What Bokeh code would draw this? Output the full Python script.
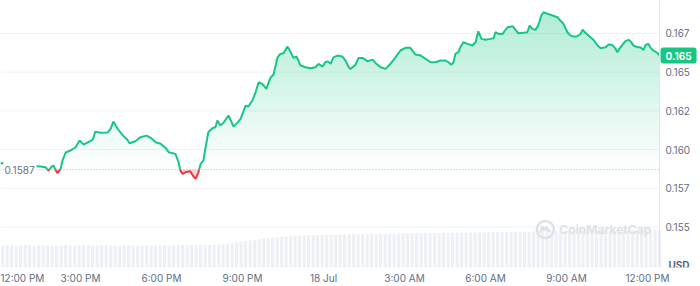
import numpy as np
from bokeh.plotting import figure
from bokeh.models import Range1d, FixedTicker, Label, ColumnDataSource
from bokeh.core.properties import value
from bokeh.embed import file_html
from bokeh.resources import INLINE

# ---- data (minutes after 17 Jul 12:00 PM, price in USD) ----
minutes = [
    2, 24, 47, 64, 80, 91, 102, 109, 116, 120,
    124, 129, 136, 140, 147, 158, 169, 178, 187, 196,
    207, 213, 224, 240, 247, 253, 262, 273, 284, 289,
    302, 313, 327, 336, 347, 358, 369, 376, 391, 398,
    402, 407, 413, 424, 431, 436, 442, 447, 453, 458,
    464, 473, 480, 484, 491, 498, 509, 520, 529, 536,
    547, 553, 562, 569, 576, 584, 593, 602, 609, 618,
    624, 631, 640, 647, 653, 660, 669, 680, 691, 702,
    709, 718, 724, 729, 736, 742, 751, 762, 769, 776,
    780, 791, 798, 807, 818, 829, 836, 847, 858, 869,
    880, 891, 902, 913, 924, 936, 947, 958, 969, 980,
    991, 998, 1004, 1009, 1013, 1020, 1024, 1031, 1040, 1051,
    1058, 1064, 1071, 1080, 1091, 1098, 1102, 1109, 1118, 1129,
    1140, 1147, 1153, 1164, 1173, 1178, 1184, 1191, 1198, 1204,
    1209, 1218, 1229, 1240, 1247, 1253, 1262, 1269, 1276, 1284,
    1291, 1296, 1302, 1313, 1320, 1329, 1336, 1347, 1353, 1362,
    1369, 1373, 1380, 1391, 1398, 1402, 1409, 1418, 1424, 1431,
    1436, 1442, 1447, 1453, 1462, 1467,
]
price = [
    0.15913, 0.15903, 0.15897, 0.15893, 0.15892, 0.15890, 0.15886, 0.15864, 0.15890, 0.15897,
    0.15871, 0.15847, 0.15877, 0.15929, 0.15981, 0.15994, 0.16015, 0.16058, 0.16032, 0.16047,
    0.16063, 0.16116, 0.16108, 0.16110, 0.16134, 0.16181, 0.16136, 0.16095, 0.16063, 0.16041,
    0.16054, 0.16079, 0.16090, 0.16076, 0.16047, 0.16037, 0.16011, 0.15983, 0.15972, 0.15918,
    0.15864, 0.15843, 0.15853, 0.15860, 0.15826, 0.15811, 0.15853, 0.15908, 0.15929, 0.16015,
    0.16112, 0.16138, 0.16144, 0.16187, 0.16155, 0.16174, 0.16220, 0.16149, 0.16174, 0.16200,
    0.16284, 0.16278, 0.16317, 0.16370, 0.16435, 0.16424, 0.16392, 0.16463, 0.16485, 0.16596,
    0.16618, 0.16622, 0.16665, 0.16629, 0.16592, 0.16601, 0.16543, 0.16532, 0.16525, 0.16532,
    0.16554, 0.16536, 0.16564, 0.16570, 0.16554, 0.16596, 0.16607, 0.16601, 0.16575, 0.16532,
    0.16521, 0.16547, 0.16592, 0.16592, 0.16570, 0.16581, 0.16558, 0.16532, 0.16521, 0.16554,
    0.16596, 0.16640, 0.16657, 0.16657, 0.16614, 0.16607, 0.16586, 0.16564, 0.16564, 0.16575,
    0.16575, 0.16564, 0.16547, 0.16564, 0.16618, 0.16629, 0.16661, 0.16693, 0.16683, 0.16672,
    0.16693, 0.16764, 0.16715, 0.16709, 0.16715, 0.16719, 0.16758, 0.16747, 0.16747, 0.16790,
    0.16797, 0.16773, 0.16751, 0.16754, 0.16758, 0.16801, 0.16780, 0.16773, 0.16808, 0.16866,
    0.16887, 0.16877, 0.16866, 0.16855, 0.16830, 0.16814, 0.16758, 0.16736, 0.16730, 0.16732,
    0.16747, 0.16775, 0.16754, 0.16725, 0.16709, 0.16672, 0.16654, 0.16661, 0.16678, 0.16676,
    0.16651, 0.16629, 0.16661, 0.16700, 0.16709, 0.16700, 0.16672, 0.16661, 0.16661, 0.16644,
    0.16676, 0.16683, 0.16657, 0.16640, 0.16625, 0.16607,
]
baseline = 0.1587
baseline_label = "0.1587"
last_price_label = "0.165"
currency_label = "USD"

# volume, one bar per 10 minutes (relative units)
volume = [
    8.1, 8.3, 8.2, 8.0, 8.2, 8.4, 8.3, 8.1, 8.2, 8.3,
    8.2, 8.0, 8.1, 8.3, 8.4, 8.2, 8.1, 8.2, 8.3, 8.2,
    8.1, 8.2, 8.4, 8.3, 8.2, 8.1, 8.0, 8.2, 8.3, 8.2,
    8.1, 8.2, 8.3, 8.2, 8.1, 8.3, 8.4, 8.2, 8.2, 8.3,
    8.4, 8.3, 8.5, 8.4, 8.3, 8.5, 8.4, 8.6, 8.5,
    8.7, 8.9, 9.1, 9.4, 9.6, 9.9, 10.1, 10.4, 10.6, 10.9,
    11.0, 11.2, 11.3, 11.5, 11.6, 11.8, 11.9, 12.0,
    12.0, 12.1, 12.1, 12.2, 12.2, 12.3, 12.2, 12.3, 12.3, 12.4,
    12.4, 12.5, 12.4, 12.5, 12.5, 12.6, 12.5, 12.6, 12.6, 12.7,
    12.6, 12.7, 12.7, 12.8, 12.7, 12.8, 12.8, 12.9, 12.8, 12.9,
    12.9, 13.0, 12.9, 13.0, 13.0, 13.1, 13.0, 13.1, 13.1, 13.2,
    13.1, 13.2, 13.2, 13.3, 13.2, 13.3, 13.3, 13.4, 13.3, 13.4, 13.4,
    13.5, 13.6, 13.6, 13.7, 13.7, 13.8, 13.7, 13.8, 13.8, 13.9,
    13.8, 13.9, 13.9, 14.0, 13.9, 14.0, 14.0, 14.0, 13.9, 14.0,
    14.0, 14.1, 14.0, 14.0, 14.1, 14.0, 14.0, 14.1, 14.0,
]
volume_minutes = [7 + 10 * i for i in range(len(volume))]

x_ticks = [44, 180, 360, 540, 720, 900, 1080, 1260, 1440]
x_labels = ["12:00 PM", "3:00 PM", "6:00 PM", "9:00 PM", "18 Jul",
            "3:00 AM", "6:00 AM", "9:00 AM", "12:00 PM"]
y_ticks = [0.155, 0.1575, 0.160, 0.1625, 0.165, 0.1675]
y_labels = ["0.155", "0.157", "0.160", "0.162", "0.165", "0.167"]

GREEN = "#16c784"
RED = "#ea3943"
GREY = "#616e85"
FONT = "Inter"

X0, X1 = 2.2, 1466.7          # data span (plot area left .. right edge)
PXM = 0.45                    # pixels per minute
XR = X1 + 41 / PXM            # canvas right edge (axis gutter)
Y0, Y1 = 0.15238, 0.16963

p = figure(width=700, height=286, output_backend="svg", toolbar_location=None,
           x_range=Range1d(X0, XR), y_range=Range1d(Y0, Y1),
           y_axis_location=None, min_border_left=0, min_border_top=0,
           min_border_right=0, min_border_bottom=19)
p.outline_line_color = None
p.background_fill_color = "white"
p.border_fill_color = "white"
p.xgrid.grid_line_color = None
p.ygrid.grid_line_color = None

# horizontal grid lines (plot area only)
p.segment(x0=[X0] * len(y_ticks), x1=[X1] * len(y_ticks), y0=y_ticks, y1=y_ticks,
          line_color="#eff2f5", line_width=1)

p.extra_y_ranges = {"vol": Range1d(0, 100)}
p.vbar(x=volume_minutes, top=volume, width=7, bottom=0, y_range_name="vol",
       fill_color="#edf0f4", line_color=None)

# watermark
wm_x, wm_y = 1213, 0.15483
dx, dy = 1 / PXM, 0.0000646
p.scatter(x=[wm_x], y=[wm_y], size=17, marker="circle", fill_color=None,
          line_color="#dde2e9", line_width=2.5)
p.line(x=[wm_x - 5 * dx, wm_x - 3 * dx, wm_x - 1 * dx, wm_x + 1 * dx, wm_x + 3 * dx, wm_x + 5 * dx],
       y=[wm_y - 3 * dy, wm_y + 3 * dy, wm_y - 1 * dy, wm_y + 3 * dy, wm_y - 2 * dy, wm_y + 0 * dy],
       line_color="#dde2e9", line_width=2.2)
p.add_layout(Label(x=wm_x + 14 * dx, y=wm_y, text="CoinMarketCap", text_font=FONT,
                   text_font_size="12px", text_font_style="bold", text_color="#dde2e9",
                   text_baseline="middle", text_align="left"))

# insert baseline crossings
t = np.array(minutes, float)
v = np.array(price, float)
tt, vv = [t[0]], [v[0]]
for i in range(1, len(t)):
    a, b = v[i - 1] - baseline, v[i] - baseline
    if a * b < 0:
        f = a / (a - b)
        tt.append(t[i - 1] + f * (t[i] - t[i - 1]))
        vv.append(baseline)
    tt.append(t[i])
    vv.append(v[i])
tt = np.array(tt)
vv = np.array(vv)

# gradient green fill between baseline and line
N = 28
h = (Y1 - baseline) / N
for k in range(N):
    lo = baseline + k * h
    hi = lo + h
    y2 = np.clip(vv, lo, hi)
    alpha = 0.36 * (k + 0.5) / N
    p.varea(x=tt, y1=np.full_like(tt, lo), y2=y2, fill_color=GREEN, fill_alpha=alpha)

# red fill below baseline
p.varea(x=tt, y1=np.minimum(vv, baseline), y2=np.full_like(tt, baseline),
        fill_color=RED, fill_alpha=0.22)

# baseline dotted
p.line(x=[X0, X1], y=[baseline, baseline], line_color="#a7aebf", line_width=1,
       line_dash="1 2")

green_line = np.where(vv >= baseline, vv, np.nan)
red_line = np.where(vv <= baseline, vv, np.nan)
p.line(x=tt, y=green_line, line_color=GREEN, line_width=2)
p.line(x=tt, y=red_line, line_color=RED, line_width=2)

# right-hand price axis
p.segment(x0=[X1], x1=[X1], y0=[Y0], y1=[Y1], line_color="#e3e7ec", line_width=1)
ysrc = ColumnDataSource(dict(x=[X1] * len(y_ticks), y=y_ticks, text=y_labels))
p.text(x="x", y="y", text="text", source=ysrc, x_offset=6, text_font=value(FONT),
       text_font_size="10px", text_color=GREY, text_baseline="middle", text_align="left")

# bottom time axis
p.xaxis.ticker = FixedTicker(ticks=x_ticks)
p.xaxis.major_label_overrides = {t_: l for t_, l in zip(x_ticks, x_labels)}
ax = p.xaxis[0]
ax.major_tick_line_color = None
ax.minor_tick_line_color = None
ax.major_tick_out = 0
ax.major_tick_in = 0
ax.minor_tick_out = 0
ax.major_label_text_font = FONT
ax.major_label_text_font_size = "10px"
ax.major_label_text_color = GREY
ax.axis_line_color = None
ax.major_label_standoff = 4

# labels
p.add_layout(Label(x=X0, y=baseline, x_offset=3, text=baseline_label, text_font=FONT,
                   text_font_size="10px", text_color=GREY, text_baseline="middle",
                   text_align="left", background_fill_color="white",
                   padding=dict(left=1, right=2, top=4, bottom=4)))
p.add_layout(Label(x=X1, y=price[-1], x_offset=1, text=last_price_label, text_font=FONT,
                   text_font_size="10px", text_font_style="bold", text_color="white",
                   text_baseline="middle", text_align="left",
                   background_fill_color=GREEN, border_radius=3,
                   padding=dict(left=5, right=5, top=4, bottom=4)))
p.add_layout(Label(x=X1, y=0.15257, x_offset=9, text=currency_label, text_font=FONT,
                   text_font_size="10px", text_font_style="bold", text_color="#58667e",
                   text_baseline="middle", text_align="left"))

open("out.html", "w").write(file_html(p, INLINE))
